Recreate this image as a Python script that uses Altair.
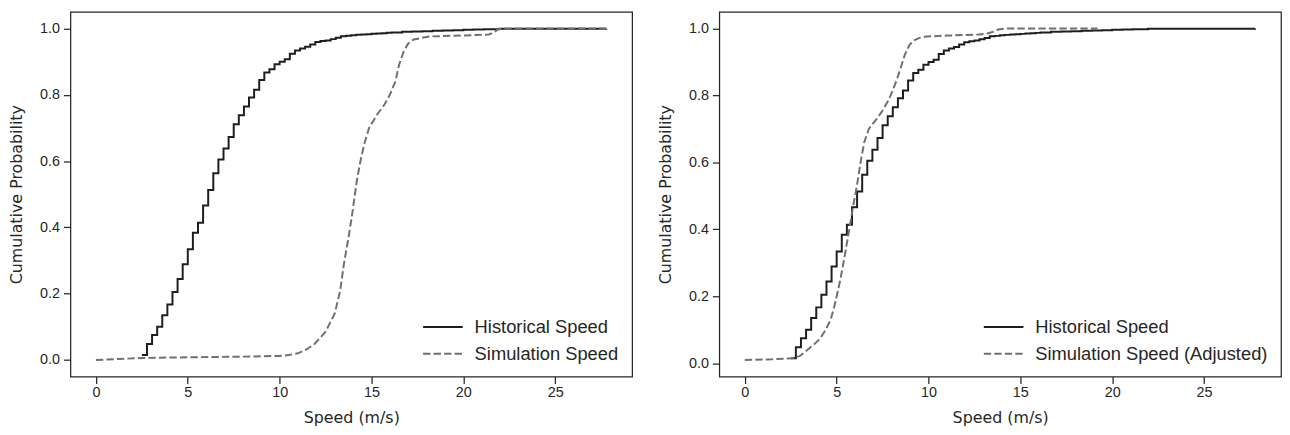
import altair as alt
import pandas as pd

# Historical speed ECDF (recorded in whole km/h), cumulative probability
hist_kmh = [9, 10, 11, 12, 13, 14, 15, 16, 17, 18, 19, 20, 21, 22, 23, 24, 25, 26, 27, 28,
            29, 30, 31, 32, 33, 34, 35, 36, 37, 38, 39, 40, 41, 42, 43, 44, 45, 46, 47, 48,
            49, 50, 51, 52, 53, 54, 55, 56, 57, 58, 60, 62, 64, 66, 68, 70, 72, 74, 76, 79, 100]
hist_cdf = [0.015, 0.048, 0.075, 0.100, 0.135, 0.167, 0.205, 0.244, 0.289, 0.334, 0.384, 0.414,
            0.466, 0.513, 0.563, 0.605, 0.638, 0.673, 0.711, 0.738, 0.765, 0.792, 0.815, 0.845,
            0.867, 0.877, 0.892, 0.900, 0.907, 0.924, 0.934, 0.940, 0.945, 0.952, 0.959, 0.962,
            0.964, 0.968, 0.972, 0.977, 0.978, 0.980, 0.981, 0.982, 0.983, 0.984, 0.985, 0.986,
            0.987, 0.988, 0.990, 0.991, 0.992, 0.993, 0.994, 0.995, 0.996, 0.997, 0.998, 0.9995, 1.0]

# Simulation speed CDF (left panel)
sim_speed = [0, 2.6, 5, 8, 10, 10.5, 11, 11.5, 11.9, 12.5, 13.0, 13.3, 13.5, 13.75, 13.95, 14.2,
             14.4, 14.6, 14.87, 15.3, 15.7, 16.0, 16.3, 16.5, 16.75, 17.0, 17.3, 18.15, 20, 21.4,
             21.7, 21.9, 22.2, 27.8]
sim_cdf = [0.0, 0.006, 0.008, 0.010, 0.012, 0.015, 0.020, 0.033, 0.048, 0.085, 0.140, 0.210, 0.290,
           0.370, 0.440, 0.540, 0.600, 0.650, 0.700, 0.740, 0.770, 0.800, 0.840, 0.890, 0.930, 0.955,
           0.967, 0.976, 0.979, 0.982, 0.990, 0.998, 1.0, 1.0]

# Adjusted simulation speed CDF (right panel)
adj_speed = [0, 1.5, 2.6, 3.0, 3.4, 3.8, 4.1, 4.4, 4.67, 4.85, 5.0, 5.2, 5.37, 5.64, 5.9, 6.1, 6.3,
             6.5, 6.75, 7.18, 7.5, 7.81, 8.05, 8.26, 8.5, 8.7, 8.95, 9.16, 9.5, 9.88, 11, 12.75,
             13.2, 13.5, 13.8, 14.2, 19.2]
adj_cdf = [0.010, 0.012, 0.015, 0.022, 0.040, 0.058, 0.074, 0.100, 0.130, 0.165, 0.200, 0.250,
           0.300, 0.385, 0.470, 0.530, 0.600, 0.660, 0.700, 0.730, 0.755, 0.785, 0.815, 0.845,
           0.885, 0.920, 0.950, 0.963, 0.972, 0.976, 0.979, 0.982, 0.985, 0.990, 0.997, 1.0, 1.0]

x_ticks = [0, 5, 10, 15, 20, 25]
y_ticks = [0.0, 0.2, 0.4, 0.6, 0.8, 1.0]
HIST = "Historical Speed"

hist_ms = [k / 3.6 for k in hist_kmh]


def panel(sx, sy, label, ydom):
    hist_df = pd.DataFrame({"speed": hist_ms, "cdf": hist_cdf, "series": HIST})
    sim_df = pd.DataFrame({"speed": sx, "cdf": sy, "series": label})
    dom = [HIST, label]
    x = alt.X("speed:Q", scale=alt.Scale(domain=[-1.39, 29.19], nice=False, zero=False),
              axis=alt.Axis(values=x_ticks, title="Speed (m/s)", labelPadding=2, titlePadding=11))
    y = alt.Y("cdf:Q", scale=alt.Scale(domain=ydom, nice=False, zero=False),
              axis=alt.Axis(values=y_ticks, format=".1f", title="Cumulative Probability",
                            titlePadding=15))
    leg = alt.Legend(title=None, orient="bottom-right", symbolType="M-2,0H2", symbolSize=400,
                     symbolStrokeWidth=2, labelFont="Liberation Sans", labelFontSize=18.5,
                     labelColor="#262626", labelOffset=21, rowPadding=6, offset=13, padding=0,
                     labelLimit=400)
    color = alt.Color("series:N", scale=alt.Scale(domain=dom, range=["#1e1e1e", "#707070"]),
                      legend=leg, sort=dom)
    dash = alt.StrokeDash("series:N", scale=alt.Scale(domain=dom, range=[[1, 0], [7.4, 3.2]]),
                          legend=leg, sort=dom)
    h = alt.Chart(hist_df).mark_line(interpolate="step-after", strokeWidth=2).encode(
        x=x, y=y, color=color, strokeDash=dash)
    s = alt.Chart(sim_df).mark_line(strokeWidth=2).encode(x=x, y=y, color=color, strokeDash=dash)
    return alt.layer(h, s).properties(width=567, height=368)


left = panel(sim_speed, sim_cdf, "Simulation Speed", [-0.05, 1.05])
right = panel(adj_speed, adj_cdf, "Simulation Speed (Adjusted)", [-0.0395, 1.0495])

chart = alt.hconcat(left, right, spacing=24).resolve_scale(
    color="independent", strokeDash="independent"
).properties(
    padding={"left": 0, "top": 1, "right": 0, "bottom": 0},
    background="white"
).configure_view(
    stroke="#262626", strokeWidth=1.25
).configure_axis(
    domain=False, grid=False, tickColor="#262626", tickSize=7, tickWidth=1.25,
    labelFont="Liberation Sans", labelFontSize=14.5, labelColor="#262626", labelPadding=4,
    titleFont="DejaVu Sans", titleFontSize=16, titleFontWeight="normal", titleColor="#262626"
)

chart.save("out.html", embed_options={"renderer": "svg", "actions": False})
